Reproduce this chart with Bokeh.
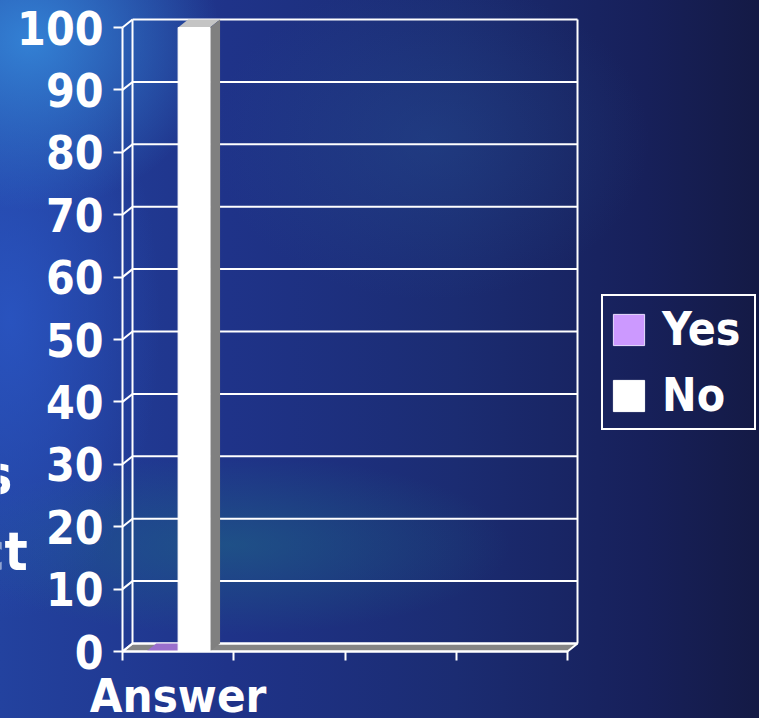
from bokeh.plotting import figure
from bokeh.models import Range1d, FixedTicker, Legend, LegendItem, Label, GlobalInlineStyleSheet
from bokeh.embed import file_html
from bokeh.resources import INLINE

# ---------------- data ----------------
categories = ["Answer"]
series = ["Yes", "No"]
yes_values = [0]
no_values = [100]
y_ticks = [0, 10, 20, 30, 40, 50, 60, 70, 80, 90, 100]
category_slots = [0, 1, 2, 3, 4]
title_fragments = ["s", "ct"]

# ---------------- style ----------------
FONT = "'DejaVu Sans Condensed', 'DejaVu Sans', sans-serif"
WHITE = "#FFFFFF"
YES_FRONT = "#CC99FF"
YES_TOP = "#9A6FCC"
NO_FRONT = "#FFFFFF"
NO_TOP = "#C4C4C4"
SIDE = "#808080"
FLOOR = "#858585"

DX = 0.09    # depth offset, x data units
DY = 1.28    # depth offset, y data units
BAR_W = 0.287

x_max = category_slots[-1]
y_max = y_ticks[-1]

W, H = 759, 718
css = """
html, body {
  margin: 0;
  padding: 0;
  overflow: hidden;
  background-color: #1b2a6e;
  background-image:
    radial-gradient(ellipse 190px 170px at 30px 40px, rgba(52,132,215,0.95), rgba(52,132,215,0)),
    radial-gradient(ellipse 150px 300px at 10px 320px, rgba(42,86,196,0.85), rgba(42,86,196,0)),
    radial-gradient(ellipse 280px 90px at 230px 545px, rgba(30,104,134,0.55), rgba(30,104,134,0)),
    radial-gradient(ellipse 220px 160px at 430px 140px, rgba(40,84,150,0.35), rgba(40,84,150,0)),
    linear-gradient(90deg, #23429f 0%, #1f3389 30%, #1b2c72 60%, #17205a 85%, #141a45 100%);
  background-attachment: fixed;
}
"""

# the plotting frame covers the whole canvas; axes sit at fixed data locations
p = figure(
    width=W, height=H,
    x_range=Range1d(-1.0966, 5.7258), y_range=Range1d(-10.737, 104.327),
    output_backend="svg", toolbar_location=None,
    min_border=0,
    background_fill_color=None, border_fill_color=None, outline_line_color=None,
)
p.stylesheets = [GlobalInlineStyleSheet(css=css)]
p.grid.visible = False

# ---------------- walls & floor ----------------
p.patch([0, x_max, x_max + DX, DX], [0, 0, DY, DY], fill_color=FLOOR, line_color=WHITE, line_width=2)

# back-wall gridlines
p.segment(x0=[DX] * len(y_ticks), y0=[t + DY for t in y_ticks],
          x1=[x_max + DX] * len(y_ticks), y1=[t + DY for t in y_ticks],
          line_color=WHITE, line_width=2)
# side-wall connectors
p.segment(x0=[0] * len(y_ticks), y0=y_ticks,
          x1=[DX] * len(y_ticks), y1=[t + DY for t in y_ticks],
          line_color=WHITE, line_width=2)
# back-wall vertical edges
p.segment(x0=[DX, x_max + DX], y0=[DY, DY], x1=[DX, x_max + DX], y1=[y_max + DY, y_max + DY],
          line_color=WHITE, line_width=2)

# ---------------- bars ----------------
renderers = {}
for s_idx, (name, vals, front, top) in enumerate([
        (series[0], yes_values, YES_FRONT, YES_TOP),
        (series[1], no_values, NO_FRONT, NO_TOP)]):
    lefts = [i + 0.5 - BAR_W + s_idx * BAR_W for i in range(len(categories))]
    rights = [l + BAR_W for l in lefts]
    # top faces
    p.patches(
        xs=[[l, r, r + DX, l + DX] for l, r in zip(lefts, rights)],
        ys=[[v, v, v + DY, v + DY] for v in vals],
        fill_color=top, line_color=None)
    # side faces
    p.patches(
        xs=[[r, r + DX, r + DX, r] for r in rights],
        ys=[[0, DY, v + DY, v] for v in vals],
        fill_color=SIDE, line_color=None)
    # front faces
    renderers[name] = p.quad(left=lefts, right=rights, bottom=[0] * len(vals), top=vals,
                             fill_color=front, line_color="#E8DDFF" if s_idx == 0 else WHITE,
                             line_width=1)

# ---------------- axes ----------------
ya = p.yaxis[0]
ya.fixed_location = 0
ya.ticker = FixedTicker(ticks=y_ticks)
ya.bounds = (0, y_max)
ya.axis_line_color = WHITE
ya.axis_line_width = 2
ya.major_tick_line_color = WHITE
ya.major_tick_line_width = 2
ya.major_tick_out = 9
ya.major_tick_in = 0
ya.minor_tick_line_color = None
ya.major_label_standoff = 10
ya.major_label_text_font = FONT
ya.major_label_text_font_size = "46px"
ya.major_label_text_font_style = "bold"
ya.major_label_text_color = WHITE

xa = p.xaxis[0]
xa.fixed_location = 0
centers = [i + 0.5 for i in range(len(categories))]
xa.ticker = FixedTicker(ticks=centers, minor_ticks=category_slots)
xa.major_label_overrides = {c: lab for c, lab in zip(centers, categories)}
xa.bounds = (0, x_max)
xa.axis_line_color = WHITE
xa.axis_line_width = 2
xa.major_tick_line_color = None
xa.major_tick_out = 0
xa.major_tick_in = 0
xa.minor_tick_line_color = WHITE
xa.minor_tick_line_width = 2
xa.minor_tick_out = 9
xa.minor_tick_in = 0
xa.major_label_standoff = 7
xa.major_label_text_font = FONT
xa.major_label_text_font_size = "47px"
xa.major_label_text_font_style = "bold"
xa.major_label_text_color = WHITE

# ---------------- legend ----------------
legend = Legend(
    items=[LegendItem(label=n, renderers=[renderers[n]]) for n in series],
    location=(601, 288),
    border_line_color=WHITE, border_line_width=2, border_line_alpha=1.0,
    background_fill_alpha=0,
    padding=6, spacing=12, margin=0,
    glyph_width=39, glyph_height=39,
    label_standoff=14, label_width=86,
    label_text_font=FONT, label_text_font_size="46px", label_text_font_style="bold",
    label_text_color=WHITE,
)
p.add_layout(legend)

# ---------------- cut-off slide title fragments ----------------
for txt, xx, yy in zip(title_fragments, [-0.989, -0.852], [28.4, 16.1]):
    p.add_layout(Label(x=xx, y=yy, text=txt, text_align="right", text_baseline="alphabetic",
                       text_font=FONT, text_font_size="54px", text_font_style="bold",
                       text_color=WHITE))

open("out.html", "w").write(file_html(p, INLINE))
